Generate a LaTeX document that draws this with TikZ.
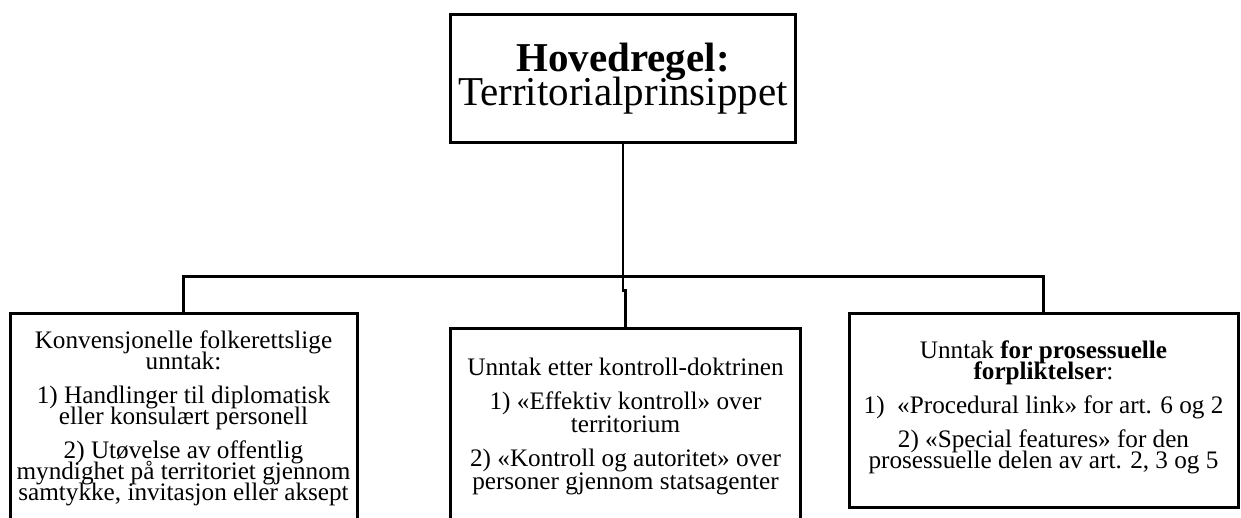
\documentclass[tikz,border=0pt]{standalone}
\usepackage{fontspec}
\setmainfont{Liberation Serif}
\usetikzlibrary{positioning}
\lineskiplimit=-20pt\relax

\begin{document}
\begin{tikzpicture}[
    x=0.5pt, y=-0.5pt,
    box/.style={rectangle, draw, line width=1.5pt, inner sep=0pt},
    boxtext/.style={align=center, inner sep=0pt,
        font=\fontsize{12.6pt}{10.5pt}\selectfont},
    line/.style={line width=1.2pt}
]
\useasboundingbox (0,0) rectangle (1241,518);

% Main rule
\node[box, minimum width=172.5pt, minimum height=64pt, align=center,
      font=\fontsize{20.5pt}{17pt}\selectfont] (hoved) at (623,79)
      {\textbf{Hovedregel:}\\Territorialprinsippet};

% Exceptions
\node[box, anchor=north, minimum width=173.5pt, minimum height=120pt] (konv) at (183.5,312) {};
\node[box, anchor=north, minimum width=175pt, minimum height=120pt] (kontroll) at (625.5,327) {};
\node[box, anchor=north, minimum width=194.5pt, minimum height=97pt] (pros) at (1043.5,312) {};

\node[boxtext, below=9pt of konv.north] (konvtxt)
    {Konvensjonelle folkerettslige\\unntak:\\[6.5pt]
     1) Handlinger til diplomatisk\\eller konsulært personell\\[6.5pt]
     2) Utøvelse av offentlig\\myndighet på territoriet gjennom\\samtykke, invitasjon eller aksept};
\node[boxtext, below=15.5pt of kontroll.north,
      font=\fontsize{12.6pt}{11.5pt}\selectfont] (kontrolltxt)
    {Unntak etter kontroll-doktrinen\\[5.5pt]
     1) «Effektiv kontroll» over\\territorium\\[5.5pt]
     2) «Kontroll og autoritet» over\\personer gjennom statsagenter};
\node[boxtext, below=14pt of pros.north] (prostxt)
    {Unntak \textbf{for prosessuelle}\\\textbf{forpliktelser}:\\[6.5pt]
     1)~~«Procedural link» for art. 6 og 2\\[6.5pt]
     2) «Special features» for den\\prosessuelle delen av art. 2, 3 og 5};

% Connections
\draw[line] (hoved.south) -- ++(0,132) coordinate (jct);
\draw[line] (konv.north) |- (jct) -| (pros.north);
\draw[line] (jct) -- ++(0,14) -| (kontroll.north);

\end{tikzpicture}
\end{document}
